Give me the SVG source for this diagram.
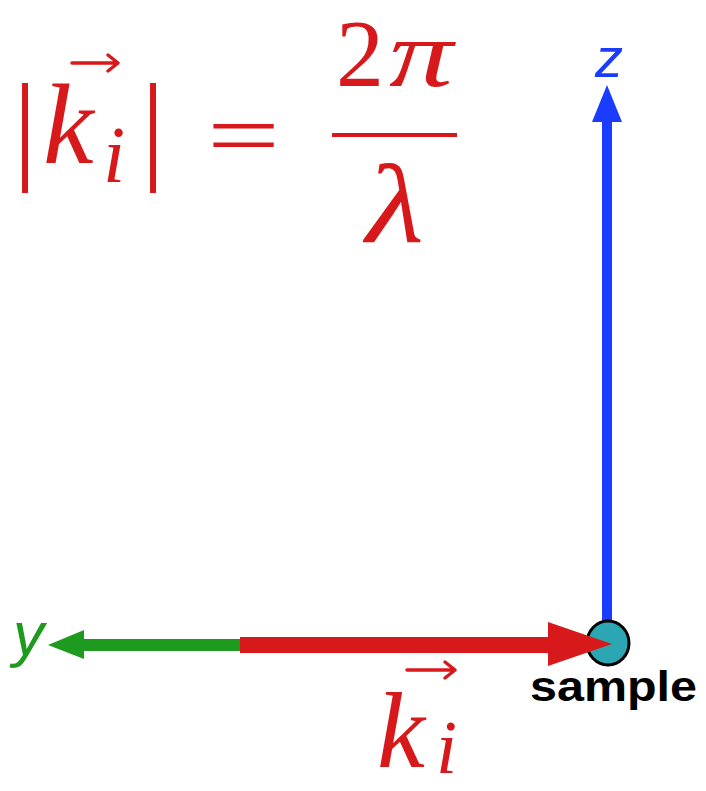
<svg xmlns="http://www.w3.org/2000/svg" width="706" height="791" viewBox="0 0 706 791">
<style>
.m{font-family:"Liberation Serif","DejaVu Serif",serif;fill:#d8191c}
.mi{font-family:"Liberation Serif","DejaVu Serif",serif;font-style:italic;fill:#d8191c}
.acc{fill:none;stroke:#d8191c;stroke-width:3.5;stroke-linecap:round;stroke-linejoin:round}
.ax{font-family:"Liberation Sans",Arial,sans-serif;font-style:italic}
</style>
<rect width="706" height="791" fill="#fff"/>
<g id="formula">
<text class="m" x="13" y="167" font-size="120">|</text>
<text class="mi" x="43" y="163" font-size="114">k</text>
<text class="mi" x="103" y="182" font-size="80">i</text>
<text class="m" x="141" y="167" font-size="120">|</text>
<path class="acc" d="M72 63H118M108 55L118 63L108 71"/>
<text class="m" x="207" y="166" font-size="92" textLength="73" lengthAdjust="spacingAndGlyphs">=</text>
<text class="m" x="336" y="86" font-size="96">2</text>
<text class="mi" x="389" y="86" font-size="96" textLength="64" lengthAdjust="spacingAndGlyphs">π</text>
<line x1="332" y1="135" x2="457" y2="135" stroke="#d8191c" stroke-width="4"/>
<text class="mi" x="366" y="242" font-size="112" textLength="58" lengthAdjust="spacingAndGlyphs">λ</text>
</g>
<g id="connectors">
<g id="z-axis">
<line x1="607" y1="625" x2="607" y2="118" stroke="#1a3cff" stroke-width="10"/>
<polygon points="607,85 622,122 592,122" fill="#1a3cff"/>
</g>
<g id="y-axis">
<line x1="245" y1="645" x2="80" y2="645" stroke="#1e9a1e" stroke-width="12"/>
<polygon points="48,645 84,630 84,659" fill="#1e9a1e"/>
</g>
</g>
<g id="sample">
<ellipse cx="608" cy="643" rx="21" ry="22" fill="#2aa7b2" stroke="#000" stroke-width="3"/>
<text x="530" y="701" font-family="'Liberation Sans',Arial,sans-serif" font-weight="bold" font-size="42" textLength="167" lengthAdjust="spacingAndGlyphs" fill="#000">sample</text>
</g>
<g id="k-vector">
<line x1="240" y1="645" x2="555" y2="645" stroke="#d8191c" stroke-width="16"/>
<polygon points="612,644 548,622 548,666" fill="#d8191c"/>
</g>
<g id="labels">
<text class="ax" x="595" y="77" font-size="56" fill="#1a3cff">z</text>
<text class="ax" x="13" y="655" font-size="62" fill="#1e9a1e">y</text>
<text class="mi" x="377" y="767" font-size="108">k</text>
<text class="mi" x="436" y="773" font-size="76">i</text>
<path class="acc" d="M407 670H455M445 662L455 670L445 678"/>
</g>
</svg>
